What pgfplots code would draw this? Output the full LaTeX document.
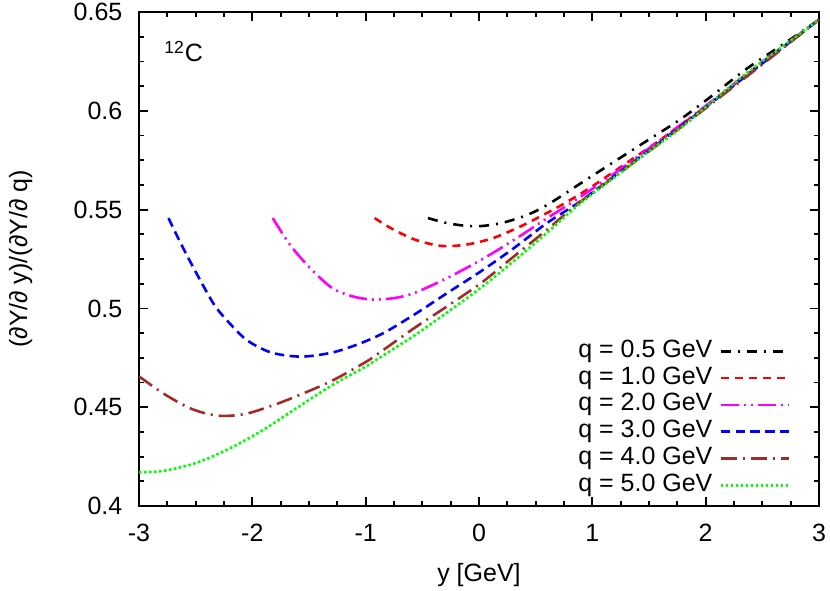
\documentclass[border=0pt]{standalone}
\usepackage{fontspec}
\setmainfont{Liberation Sans}
\usepackage{pgfplots}
\pgfplotsset{compat=1.18}
\definecolor{gpred}{RGB}{255,0,0}
\definecolor{gpmag}{RGB}{255,0,255}
\definecolor{gpblue}{RGB}{0,0,255}
\definecolor{gpbrown}{RGB}{165,42,42}
\definecolor{gpgreen}{RGB}{0,255,0}
\newcommand{\fs}{\fontsize{12.5}{14}\selectfont}

\begin{document}
\begin{tikzpicture}
\begin{axis}[
    name=main,
    scale only axis,
    width=340pt, height=247pt,
    xmin=-3, xmax=3, ymin=0.4, ymax=0.65,
    xtick={-3,-2,-1,0,1,2,3},
    ytick={0.4,0.45,0.5,0.55,0.6,0.65},
    minor x tick num=3, minor y tick num=3,
    major tick length=4.5pt, minor tick length=2.5pt,
    tick style={black, line width=0.9pt},
    axis line style={line width=1.2pt},
    /pgf/number format/assume math mode=true,
    tick label style={font=\fs},
    xticklabel style={yshift=-5.5pt},
    yticklabel style={xshift=-4.8pt},
    xlabel={y [GeV]}, ylabel={(∂Y/∂ y)/(∂Y/∂ q)},
    every axis x label/.style={at={(axis description cs:0.5,-0.14)}, anchor=center, font=\fs},
    every axis y label/.style={at={(axis description cs:-0.174,0.5)}, anchor=center, rotate=90, font=\fs},
    legend plot pos=right,
    legend cell align=right,
    legend image code/.code={\draw[#1] (0pt,0pt) -- (34pt,0pt);},
    legend style={at={(rel axis cs:0.958,0.014)}, anchor=south east, draw=none, fill=none,
        inner sep=0pt, font=\fs, column sep=3pt,
        nodes={inner sep=0.5pt, text height=9.2pt, text depth=3.2pt}},
    every axis plot/.append style={line width=1.3pt, smooth},
]
\addplot[black, dash pattern=on 5pt off 3.5pt on 1pt off 3.5pt] coordinates {
(-0.45,0.5457)(-0.3,0.5434)(-0.15,0.5420)(0,0.5416)(0.2,0.5432)(0.43,0.5474)(0.62,0.5530)
(0.9,0.5634)(1.2,0.5745)(1.5,0.5855)(1.78,0.5958)(2.06,0.6078)(2.36,0.6212)(2.7,0.6343)(3.0,0.6461)};
\addlegendentry{q = 0.5 GeV}
\addplot[gpred, dash pattern=on 4pt off 3pt] coordinates {
(-0.92,0.5457)(-0.78,0.5407)(-0.57,0.5349)(-0.33,0.5316)(-0.1,0.5324)(0.13,0.5357)(0.37,0.5416)
(0.6,0.5483)(0.78,0.5540)(1.0,0.5618)(1.3,0.5735)(1.6,0.5853)(1.9,0.5978)(2.2,0.6110)(2.6,0.6288)(3.0,0.6461)};
\addlegendentry{q = 1.0 GeV}
\addplot[gpmag, dash pattern=on 9pt off 2.5pt on 1pt off 2.5pt on 1pt off 2.5pt] coordinates {
(-1.82,0.5457)(-1.66,0.5316)(-1.48,0.5198)(-1.3,0.5105)(-1.13,0.5063)(-0.95,0.5045)(-0.75,0.5052)
(-0.57,0.5078)(-0.28,0.5154)(0.02,0.5246)(0.31,0.5347)(0.6,0.5456)(0.83,0.5540)(1.1,0.5645)
(1.5,0.5810)(2.0,0.6025)(2.5,0.6248)(3.0,0.6461)};
\addlegendentry{q = 2.0 GeV}
\addplot[gpblue, dash pattern=on 4.7pt off 2.7pt] coordinates {
(-2.74,0.5457)(-2.62,0.5316)(-2.48,0.5164)(-2.33,0.5013)(-2.18,0.4912)(-2.04,0.4836)(-1.83,0.4776)
(-1.57,0.4756)(-1.3,0.4776)(-1.07,0.4818)(-0.84,0.4876)(-0.57,0.4969)(-0.28,0.5078)(0.02,0.5189)
(0.31,0.5306)(0.6,0.5432)(0.89,0.5540)(1.2,0.5672)(1.6,0.5843)(2.0,0.6018)(2.5,0.6240)(3.0,0.6461)};
\addlegendentry{q = 3.0 GeV}
\addplot[gpbrown, dash pattern=on 8pt off 3pt on 1pt off 3pt] coordinates {
(-3,0.4656)(-2.77,0.4564)(-2.53,0.4490)(-2.3,0.4457)(-2.07,0.4465)(-1.83,0.4507)(-1.6,0.4558)
(-1.3,0.4633)(-1.01,0.4725)(-0.87,0.4779)(-0.57,0.4901)(-0.28,0.5011)(0.02,0.5129)(0.31,0.5264)
(0.6,0.5398)(0.86,0.5524)(1.2,0.5668)(1.6,0.5838)(2.0,0.6013)(2.5,0.6235)(3.0,0.6461)};
\addlegendentry{q = 4.0 GeV}
\addplot[gpgreen, dash pattern=on 1.3pt off 1.2pt] coordinates {
(-3,0.4170)(-2.77,0.4179)(-2.48,0.4221)(-2.18,0.4297)(-1.89,0.4390)(-1.6,0.4499)(-1.3,0.4610)
(-1.01,0.4702)(-0.87,0.4753)(-0.57,0.4863)(-0.28,0.4980)(0.02,0.5106)(0.31,0.5241)(0.6,0.5383)
(0.89,0.5530)(1.2,0.5665)(1.5,0.5795)(1.78,0.5913)(2.06,0.6048)(2.36,0.6190)(2.7,0.6335)(3.0,0.6461)};
\addlegendentry{q = 5.0 GeV}
\node[anchor=base west, font=\fs, inner sep=0pt] at (axis cs:-2.78,0.6247) {\textsuperscript{12}C};
\end{axis}
\pgfresetboundingbox
\path[use as bounding box] ([xshift=-69.5pt,yshift=-42pt]main.south west) rectangle ([xshift=5.5pt,yshift=6pt]main.north east);
\end{tikzpicture}
\end{document}
